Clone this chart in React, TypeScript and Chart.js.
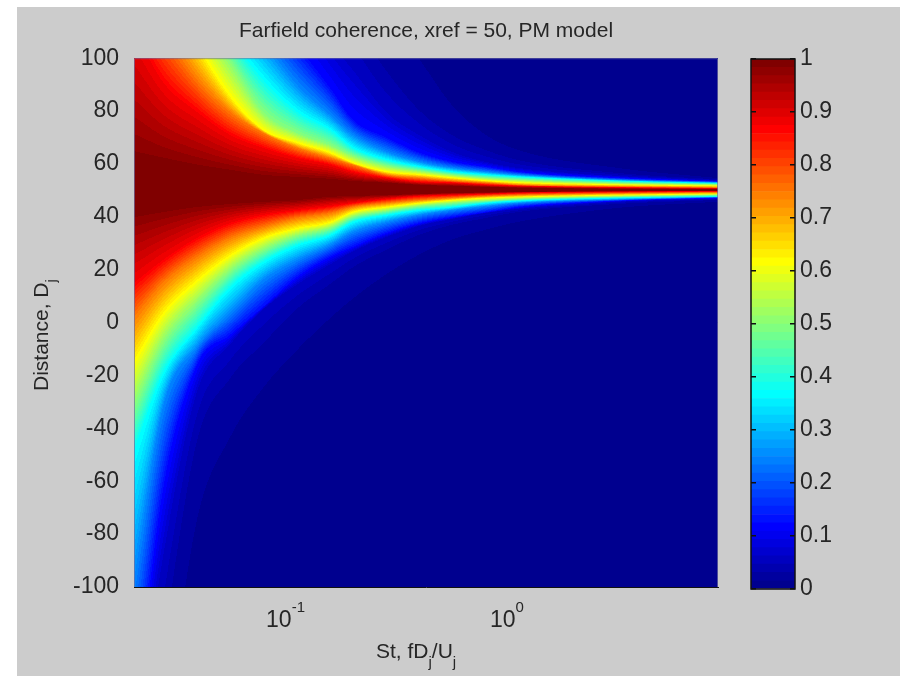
import React, { useEffect, useRef } from "react";
import { Chart, registerables } from "chart.js";

Chart.register(...registerables);

const FONT = "'Liberation Sans', Arial, sans-serif";
const TEXT = "#262626";
const BG = "#cccccc";

const titleText = "Farfield coherence, xref = 50, PM model";
const yTicks = [-100, -80, -60, -40, -20, 0, 20, 40, 60, 80, 100];
const barTicks = ["0", "0.1", "0.2", "0.3", "0.4", "0.5", "0.6", "0.7", "0.8", "0.9", "1"];

// Strouhal columns at which the iso-coherence curves were read
const stColumns = [0.0216, 0.0291, 0.0413, 0.058, 0.0814, 0.1155, 0.162, 0.205, 0.291, 0.409, 0.574, 0.814, 1.14, 3.19, 8.75];

// Distance reached by each coherence level above xref
const up015 = [254, 235, 212.6, 190, 171, 156, 140.8, 133.3, 118.1, 100, 82.2, 70.9, 65.2, 58.4, 54.6];
const up03 = [239, 220, 197.5, 174.8, 156, 140.8, 123.8, 114.4, 95.5, 80.3, 70.9, 65.2, 61.4, 56.5, 54.1];
const up06 = [224, 205, 182.4, 159.7, 140.8, 125.7, 106.8, 96.2, 79.6, 70.9, 64.5, 60.7, 58.4, 55.4, 53.7];
const up125 = [205, 186.2, 163.5, 140.8, 121.9, 104.9, 88.7, 76.6, 69.8, 64.1, 60.7, 58.8, 56.9, 54.6, 53.3];
const up25 = [186.2, 167.3, 144.6, 123.8, 106.8, 89.8, 78.5, 70.9, 64.5, 60.7, 58.4, 56.9, 55.8, 53.9, 53];
const up375 = [171, 152.2, 131.4, 108.7, 91.7, 79.6, 72.8, 66, 61.4, 58.8, 56.9, 55.8, 55, 53.5, 52.6];
const up50 = [159.7, 140.8, 118.1, 98.5, 79.6, 71.7, 67.1, 63, 59.2, 57.3, 55.8, 54.6, 53.9, 52.7, 52.2];
const up625 = [148, 129.5, 104.9, 85.3, 72.8, 67.9, 64.1, 60.3, 56.9, 55.8, 54.6, 53.5, 52.8, 52, 51.6];
const up75 = [129.5, 110.6, 91.7, 79.6, 71.7, 66, 62.2, 59.6, 55.8, 54.6, 53.5, 52.8, 52, 51.4, 51];
const up875 = [110.6, 90.9, 79.6, 70.9, 66, 62.2, 59.6, 56.9, 54.6, 53.1, 52.8, 52, 51.6, 51, 50.7];
const up985 = [64.5, 62.2, 59.6, 57.7, 55.8, 55, 54.3, 53.5, 52.8, 52, 51.6, 51.2, 50.9, 50.5, 50.3];
const centre = [50, 50, 50, 50, 50, 50, 50, 50, 50, 50, 50, 50, 50, 50, 50];

// Distance reached by each coherence level below xref
const lo985 = [39.9, 41.8, 43.7, 44.8, 45.6, 46.3, 47.5, 47.8, 48.2, 48.6, 49, 49.2, 49.4, 49.7, 49.8];
const lo875 = [15, 23.6, 32, 37.6, 40.7, 42.5, 44, 45.2, 46.7, 47.8, 48.2, 48.6, 49, 49.4, 49.6];
const lo75 = [2.1, 15, 24.8, 32, 36.1, 39.5, 41.4, 43.7, 45.2, 46.3, 47.1, 47.8, 48.2, 48.8, 49.2];
const lo625 = [-14.2, 3.6, 16.1, 25.5, 32, 35.7, 38, 41.8, 43.7, 45.2, 46.3, 47.1, 47.5, 48.2, 48.6];
const lo50 = [-31.2, -7.7, 7.4, 19.5, 27.4, 32.7, 35.7, 39.9, 42.2, 44, 45.2, 46, 46.7, 47.6, 48.2];
const lo375 = [-48.2, -19.1, -1.7, 13.4, 22.9, 29.3, 33.1, 38, 40.7, 42.5, 43.7, 45.2, 46, 47.1, 47.6];
const lo25 = [-97.3, -31.9, -9.2, 3.6, 16.1, 23.6, 29.3, 34.2, 38, 40.7, 42.5, 44, 45.2, 46.5, 47.4];
const lo125 = [-150, -63.3, -16, -4.7, 5.9, 17.2, 24.8, 28.6, 33.9, 37.6, 39.9, 41.8, 43.7, 46, 47.1];
const lo06 = [-161.6, -89.8, -26.6, -8.5, 4.8, 14.2, 21.8, 26.7, 32.3, 36.5, 39.1, 41.4, 42.9, 45.6, 46.7];
const lo03 = [-199.4, -123.8, -45.5, -21.7, -8.5, 4.8, 14.2, 20.6, 27.4, 33.1, 36.9, 39.5, 41.8, 44.8, 46.3];
const lo015 = [-237.2, -161.6, -75.8, -44.4, -25.5, -11.1, 1, 8.5, 18, 25.5, 31.2, 35, 38, 43.3, 45.6];

// Top to bottom of the plot: [coherence level, distances]
const contours: [number, number[]][] = [
  [0.015, up015], [0.03, up03], [0.06, up06], [0.125, up125], [0.25, up25], [0.375, up375],
  [0.5, up50], [0.625, up625], [0.75, up75], [0.875, up875], [0.985, up985], [1, centre],
  [0.985, lo985], [0.875, lo875], [0.75, lo75], [0.625, lo625], [0.5, lo50], [0.375, lo375],
  [0.25, lo25], [0.125, lo125], [0.06, lo06], [0.03, lo03], [0.015, lo015],
];

const BANDS = 64;
const clamp01 = (v: number) => Math.max(0, Math.min(1, v));
function jetRGB(band: number): [number, number, number] {
  const t = (band + 1) / BANDS;
  return [
    Math.round(255 * clamp01(1.5 - Math.abs(4 * t - 3))),
    Math.round(255 * clamp01(1.5 - Math.abs(4 * t - 2))),
    Math.round(255 * clamp01(1.5 - Math.abs(4 * t - 1))),
  ];
}

// Smooth curve through the read points of one contour (log-St space)
function hermite(xs: number[], ys: number[], x: number): number {
  const n = xs.length;
  let i = 0;
  while (i < n - 2 && x > xs[i + 1]) i++;
  const h = xs[i + 1] - xs[i];
  const slope = (a: number) => {
    if (a <= 0) return (ys[1] - ys[0]) / (xs[1] - xs[0]);
    if (a >= n - 1) return (ys[n - 1] - ys[n - 2]) / (xs[n - 1] - xs[n - 2]);
    const s0 = (ys[a] - ys[a - 1]) / (xs[a] - xs[a - 1]);
    const s1 = (ys[a + 1] - ys[a]) / (xs[a + 1] - xs[a]);
    return s0 * s1 <= 0 ? 0 : (s0 + s1) / 2;
  };
  const t = (x - xs[i]) / h;
  const t2 = t * t, t3 = t2 * t;
  return (
    (2 * t3 - 3 * t2 + 1) * ys[i] +
    (t3 - 2 * t2 + t) * h * slope(i) +
    (-2 * t3 + 3 * t2) * ys[i + 1] +
    (t3 - t2) * h * slope(i + 1)
  );
}

const jetField = {
  id: "jetField",
  beforeDatasetsDraw(chart: any) {
    const { ctx, chartArea: a, scales } = chart;
    const xs = scales.x, ys = scales.y;
    const sets = chart.data.datasets as any[];
    const logX = stColumns.map((v) => Math.log10(v));
    const w = Math.round(a.right - a.left);
    const h = Math.round(a.bottom - a.top);
    const img = ctx.createImageData(w, h);
    const rowD: number[] = [];
    for (let r = 0; r < h; r++) rowD.push(ys.getValueForPixel(a.top + r + 0.5));
    for (let c = 0; c < w; c++) {
      const lx = Math.log10(xs.getValueForPixel(a.left + c + 0.5));
      const line = sets.map((s) => hermite(logX, s.data.map((p: any) => p.y), lx));
      let seg = 0;
      for (let r = 0; r < h; r++) {
        const d = rowD[r];
        while (seg < line.length && d < line[seg]) seg++;
        let g = 0;
        if (seg > 0 && seg < line.length) {
          const hi = line[seg - 1], lo = line[seg];
          const f = hi === lo ? 0 : (hi - d) / (hi - lo);
          g = sets[seg - 1].level + (sets[seg].level - sets[seg - 1].level) * f;
        }
        const band = Math.max(0, Math.min(BANDS - 1, Math.floor(g * BANDS)));
        const [R, G, B] = jetRGB(band);
        const k = (r * w + c) * 4;
        img.data[k] = R;
        img.data[k + 1] = G;
        img.data[k + 2] = B;
        img.data[k + 3] = 255;
      }
    }
    ctx.putImageData(img, Math.round(a.left), Math.round(a.top));
  },
};

const axisText = {
  id: "axisText",
  afterDraw(chart: any) {
    const { ctx, scales } = chart;
    ctx.save();
    ctx.fillStyle = TEXT;
    ctx.textBaseline = "alphabetic";
    const big = `21px ${FONT}`;
    const small = `15px ${FONT}`;
    ctx.textAlign = "left";
    // decade labels of the log axis
    ([[0.1, "-1", 266], [1, "0", 490]] as [number, string, number][]).forEach(([v, exp, ref]) => {
      const px = scales.x.getPixelForValue(v);
      const left = px - (v === 1 ? 17 : 17);
      ctx.font = `23px ${FONT}`;
      ctx.fillText("10", left, 627);
      const w = ctx.measureText("10").width;
      ctx.font = small;
      ctx.fillText(exp, left + w, 612);
    });
    // x axis title with subscripts
    let x = 376;
    const put = (s: string, f: string, y: number) => {
      ctx.font = f;
      ctx.fillText(s, x, y);
      x += ctx.measureText(s).width;
    };
    put("St, fD", big, 658);
    put("j", small, 667);
    put("/U", big, 658);
    put("j", small, 667);
    // y axis title with subscript
    ctx.translate(48, 391);
    ctx.rotate(-Math.PI / 2);
    x = 0;
    put("Distance, D", big, 0);
    put("j", small, 8);
    ctx.restore();
  },
};

const fieldFrame = {
  id: "fieldFrame",
  afterDatasetsDraw(chart: any) {
    const { ctx, chartArea: a } = chart;
    ctx.save();
    ctx.strokeStyle = "rgba(110,110,160,0.7)";
    ctx.lineWidth = 1;
    ctx.beginPath();
    ctx.moveTo(a.left + 0.5, a.bottom);
    ctx.lineTo(a.left + 0.5, a.top + 0.5);
    ctx.lineTo(a.right - 0.5, a.top + 0.5);
    ctx.lineTo(a.right - 0.5, a.bottom);
    ctx.stroke();
    ctx.restore();
  },
};

const barFrame = {
  id: "barFrame",
  afterDraw(chart: any) {
    const { ctx, chartArea: a } = chart;
    ctx.save();
    ctx.strokeStyle = "#111";
    ctx.lineWidth = 1.5;
    ctx.strokeRect(a.left, a.top, a.right - a.left, a.bottom - a.top);
    ctx.restore();
  },
};

export default function App() {
  const mainRef = useRef<HTMLCanvasElement>(null);
  const barRef = useRef<HTMLCanvasElement>(null);

  useEffect(() => {
    const main = new Chart(mainRef.current!, {
      type: "scatter",
      data: {
        datasets: contours.map(([level, ds]) => ({
          label: String(level),
          level,
          data: ds.map((y, i) => ({ x: stColumns[i], y })),
          showLine: false,
          pointRadius: 0,
        })) as any,
      },
      plugins: [jetField, fieldFrame, axisText],
      options: {
        responsive: false,
        animation: false,
        devicePixelRatio: 1,
        layout: { padding: { right: 182, left: 0, top: 0, bottom: 0 } },
        plugins: {
          legend: { display: false },
          tooltip: { enabled: false },
          title: {
            display: true,
            text: titleText,
            fullSize: false,
            color: TEXT,
            font: { family: FONT, size: 21, weight: "normal" },
            padding: { top: 19, bottom: 14 },
          },
        },
        scales: {
          x: {
            type: "logarithmic",
            min: 0.0216,
            max: 8.75,
            grid: { display: false },
            border: { display: true, color: "#111", width: 1 },
            ticks: { display: false },
            afterFit: (s: any) => { s.height = 89; },
          },
          y: {
            type: "linear",
            min: yTicks[0],
            max: yTicks[yTicks.length - 1],
            afterBuildTicks: (s: any) => { s.ticks = yTicks.map((value) => ({ value })); },
            grid: { display: false },
            border: { display: false },
            ticks: { color: TEXT, font: { family: FONT, size: 23 }, padding: 7 },
            afterFit: (s: any) => { s.width = 134; },
          },
        },
      } as any,
    });

    const bar = new Chart(barRef.current!, {
      type: "bar",
      data: {
        labels: ["coherence"],
        datasets: Array.from({ length: BANDS }, (_, i) => {
          const [r, g, b] = jetRGB(i);
          return {
            label: String(i),
            data: [1 / BANDS],
            backgroundColor: `rgb(${r},${g},${b})`,
            borderWidth: 0,
            barPercentage: 1,
            categoryPercentage: 1,
            stack: "cb",
          };
        }),
      },
      plugins: [barFrame],
      options: {
        responsive: false,
        animation: false,
        devicePixelRatio: 1,
        layout: { padding: { left: 751, top: 59, bottom: 87, right: 0 } },
        plugins: { legend: { display: false }, tooltip: { enabled: false }, title: { display: false } },
        scales: {
          x: { display: false, stacked: true },
          y: {
            position: "right",
            stacked: true,
            min: 0,
            max: 1,
            afterBuildTicks: (s: any) => { s.ticks = barTicks.map((t) => ({ value: Number(t) })); },
            grid: {
              z: 1,
              drawTicks: false,
              color: "#111",
              lineWidth: 1.5,
              tickBorderDash: [],
              // inward ticks on both sides of the bar
            },
            border: { display: false, dash: [5, 34] },
            ticks: {
              color: TEXT,
              font: { family: FONT, size: 23 },
              padding: 5,
              callback: (v: any) => String(Math.round(Number(v) * 10) / 10),
            },
            afterFit: (s: any) => { s.width = 105; },
          },
        },
      } as any,
    });

    return () => {
      main.destroy();
      bar.destroy();
    };
  }, []);

  return (
    <div style={{ position: "fixed", left: 0, top: 0, width: 900, height: 676, background: "#fff", overflow: "hidden" }}>
      <div style={{ position: "absolute", left: 17, top: 7, right: 0, bottom: 0, background: BG }} />
      <canvas ref={mainRef} width={900} height={676} style={{ position: "absolute", left: 0, top: 0 }} />
      <canvas ref={barRef} width={900} height={676} style={{ position: "absolute", left: 0, top: 0 }} />
    </div>
  );
}
